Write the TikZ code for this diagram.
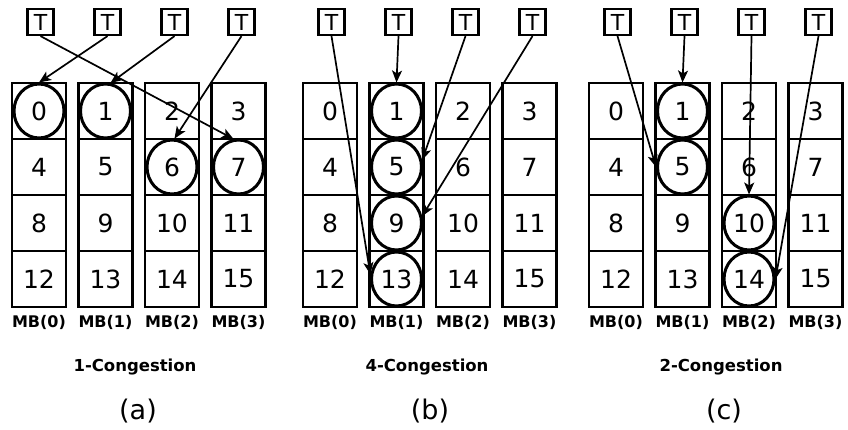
\documentclass[tikz,border=0pt]{standalone}
\usepackage{fontspec}
\setmainfont{DejaVu Sans}
\usetikzlibrary{shapes.geometric,arrows.meta}

\tikzset{
  cell/.style={draw, line width=2.8pt, fill=white, minimum width=54pt, minimum height=56pt,
    inner sep=0pt, font=\fontsize{25}{29}\selectfont},
  ring/.style={draw, ellipse, line width=3pt, minimum width=50pt, minimum height=54pt, inner sep=0pt},
  tbox/.style={draw, line width=2.2pt, fill=white, minimum size=26pt, inner sep=0pt,
    font=\fontsize{22}{25}\selectfont},
  mb/.style={font=\bfseries\fontsize{16}{19}\selectfont},
  caption/.style={font=\bfseries\fontsize{16.5}{19}\selectfont},
  tag/.style={font=\fontsize{27}{31}\selectfont},
  req/.style={line width=1.7pt, -{Stealth[length=12pt,width=10pt,inset=3pt]}},
}

\begin{document}
\begin{tikzpicture}[x=1pt,y=-1pt]
\useasboundingbox (0,0) rectangle (848,430);

% three panels: prefix, left edge of the first column, caption, tag, caption x
\foreach \p/\xo/\cap/\tg/\cx in {a/12/1-Congestion/(a)/135, b/303/4-Congestion/(b)/427, c/589/2-Congestion/(c)/721}{
  % memory banks: 4 columns x 4 rows, numbered row by row
  \foreach \col in {0,...,3}{
    \foreach \row in {0,...,3}{
      \pgfmathtruncatemacro{\n}{4*\row+\col}
      \node[cell] (\p\n) at ({\xo+27+66.5*\col},{111+56*\row}) {\n};
    }
    \node[mb] (\p mb\col) at ({\xo+27+66.5*\col},322) {MB(\col)};
    \node[tbox] (\p t\col) at ({\xo+28.5+67*\col},22) {T};
  }
  \node[caption] (\p cap) at (\cx,367) {\cap};
  \node[tag] (\p tag) at (\cx+3,411) {\tg};
}

% accessed cells
\foreach \k in {a0,a1,a6,a7, b1,b5,b9,b13, c1,c5,c10,c14}{
  \node[ring] (r\k) at (\k) {};
}

% (a) one request per bank
\draw[req] (at0.south) -- (ra7.100);
\draw[req] (at1.south) -- (ra0.north);
\draw[req] (at2.south) -- (ra1.80);
\draw[req] (at3.south) -- (ra6.85);

% (b) all requests to the same bank
\draw[req] (bt0.south) -- (rb13.170);
\draw[req] (bt1.south) -- (rb1.north);
\draw[req] (bt2.south) -- (rb5.15);
\draw[req] (bt3.south) -- (rb9.15);

% (c) two banks hit twice
\draw[req] (ct0.south) -- (rc5.west);
\draw[req] (ct1.south) -- (rc1.north);
\draw[req] (ct2.south) -- (rc10.north);
\draw[req] (ct3.south) -- (rc14.east);
\end{tikzpicture}
\end{document}
